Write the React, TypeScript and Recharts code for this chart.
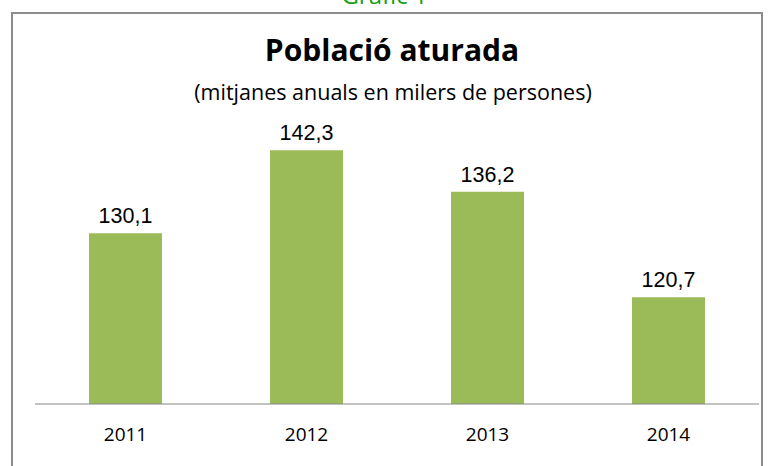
import React from "react";
import { BarChart, Bar, XAxis, YAxis, LabelList } from "recharts";

const years = ["2011", "2012", "2013", "2014"];
const aturats = [130.1, 142.3, 136.2, 120.7];

const data = years.map((year, i) => ({ year, value: aturats[i] }));

const BAR_COLOR = "#9BBB59";
const fmt = (v: number) => v.toFixed(1).replace(".", ",");

export default function App() {
    return (
        <div style={{ position: "absolute", left: 0, top: 0, width: 769, height: 466, overflow: "hidden", background: "#fff" }}>
            <div
                style={{
                    position: "absolute",
                    left: 0,
                    width: 769,
                    top: -22,
                    textAlign: "center",
                    fontFamily: "'Open Sans', sans-serif",
                    fontSize: 24,
                    color: "#11a011",
                }}
            >
                Gràfic 1
            </div>
            <div
                style={{
                    position: "absolute",
                    left: 11,
                    top: 12,
                    width: 752,
                    height: 470,
                    border: "2px solid #8c8c8c",
                    boxSizing: "border-box",
                }}
            />
            <div
                style={{
                    position: "absolute",
                    left: 0,
                    width: 784,
                    top: 29,
                    textAlign: "center",
                    fontFamily: "'Open Sans', sans-serif",
                    fontWeight: 700,
                    fontSize: 30,
                    color: "#000",
                }}
            >
                Població aturada
            </div>
            <div
                style={{
                    position: "absolute",
                    left: 0,
                    width: 786,
                    top: 77,
                    textAlign: "center",
                    fontFamily: "'Open Sans', sans-serif",
                    fontSize: 21.5,
                    color: "#000",
                }}
            >
                (mitjanes anuals en milers de persones)
            </div>
            <div style={{ position: "absolute", left: 0, top: 0 }}>
                <BarChart
                    width={769}
                    height={466}
                    data={data}
                    margin={{ top: 132, right: 10, left: 35, bottom: 32 }}
                    barCategoryGap={54}
                >
                    <XAxis
                        dataKey="year"
                        tickLine={false}
                        tickSize={0}
                        tickMargin={24}
                        axisLine={{ stroke: "#868686", strokeWidth: 1 }}
                        tick={{ fill: "#000", fontSize: 19, fontFamily: "'Open Sans', sans-serif" }}
                    />
                    <YAxis hide domain={[105, 145]} allowDataOverflow />
                    <Bar dataKey="value" fill={BAR_COLOR} isAnimationActive={false}>
                        <LabelList
                            dataKey="value"
                            position="top"
                            offset={10}
                            formatter={(v: any) => fmt(Number(v))}
                            style={{ fill: "#000", fontSize: 21.5, fontFamily: "'Liberation Sans', Arial, sans-serif" }}
                        />
                    </Bar>
                </BarChart>
            </div>
        </div>
    );
}
